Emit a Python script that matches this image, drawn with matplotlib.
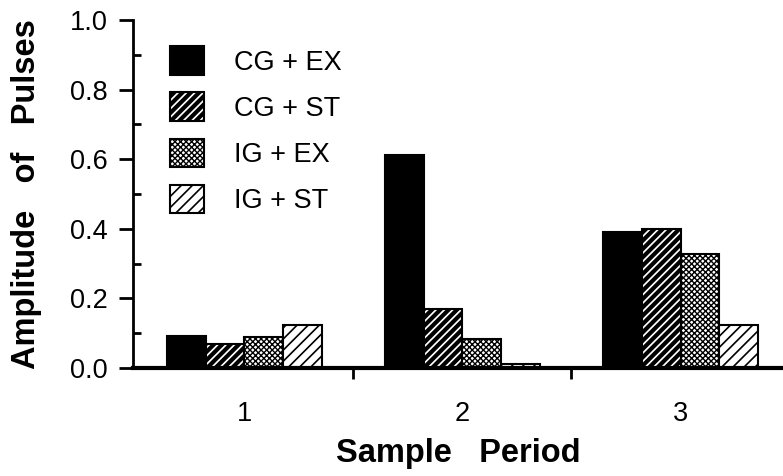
import matplotlib.pyplot as plt
import numpy as np

plt.rcParams['font.family'] = ['Liberation Sans', 'DejaVu Sans']

periods = ['1', '2', '3']
labels = ['CG + EX', 'CG + ST', 'IG + EX', 'IG + ST']
cg_ex = [0.092, 0.612, 0.39]
cg_st = [0.069, 0.170, 0.40]
ig_ex = [0.089, 0.083, 0.328]
ig_st = [0.124, 0.012, 0.124]

series = [cg_ex, cg_st, ig_ex, ig_st]
styles = [
    dict(color='black', hatch=None, hlw=1.0),
    dict(color='white', hatch='////', hlw=3.0),
    dict(color='white', hatch='xxxxxx', hlw=1.0),
    dict(color='white', hatch='///', hlw=1.2),
]

fig = plt.figure(figsize=(7.83, 4.76), dpi=100)
ax = fig.add_axes([0.170, 0.227, 0.830, 0.731])

x = np.arange(1, len(periods) + 1)
w = 0.177
for i, (vals, st) in enumerate(zip(series, styles)):
    with plt.rc_context({'hatch.linewidth': st['hlw']}):
        ax.bar(x + (i - 1.5) * w, vals, w, facecolor=st['color'],
               edgecolor='black', linewidth=1.5, hatch=st['hatch'],
               label=labels[i])

ax.set_xlim(0.49, 3.47)
ax.set_ylim(0, 1.0)
ax.set_yticks(np.arange(0, 1.01, 0.2))
ax.set_yticks(np.arange(0.1, 1.0, 0.2), minor=True)
ax.set_xticks(x)
ax.set_xticklabels(periods)
ax.set_xticks([1.5, 2.5], minor=True)

ax.spines['top'].set_visible(False)
ax.spines['right'].set_visible(False)
ax.spines['left'].set_linewidth(2)
ax.spines['bottom'].set_linewidth(3)

ax.tick_params(axis='y', which='major', direction='out', length=10, width=2,
               labelsize=19.5, pad=8)
ax.tick_params(axis='y', which='minor', direction='in', length=6, width=2)
ax.tick_params(axis='x', which='major', length=0, labelsize=19.5, pad=24)
ax.tick_params(axis='x', which='minor', direction='out', length=8, width=2)

ax.set_xlabel('Sample   Period', fontsize=23.5, fontweight='bold', labelpad=8)
ax.set_ylabel('Amplitude   of   Pulses', fontsize=23.5, fontweight='bold',
              labelpad=20)

leg = ax.legend(loc='upper left', bbox_to_anchor=(0.02, 0.995), frameon=False,
                fontsize=19.5, handlelength=1.25, handleheight=1.25,
                labelspacing=0.62, handletextpad=1.1)
for h, st in zip(leg.legend_handles, styles):
    h.set_hatch_linewidth(st['hlw'])

fig.savefig('out.png', dpi=100)
